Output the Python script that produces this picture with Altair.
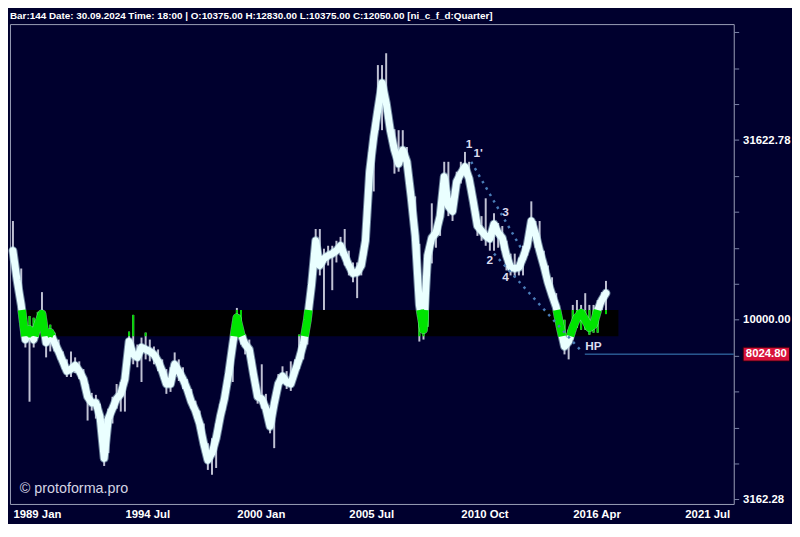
import altair as alt
import pandas as pd
import numpy as np

# ---------------- header info ----------------
bar_no = 144
last_date = "30.09.2024"
last_time = "18:00"
last_open = 10375.00
last_high = 12830.00
last_low = 10375.00
last_close = 12050.00
symbol = "ni_c_f_d:Quarter"

# ---------------- series (quarterly bars, index 0..143) ----------------
smooth = [15570, 12880, 11000, 8810, 9387, 8810, 9690, 10390, 8644, 9210,
          8650, 8170, 7670, 7200, 7290, 7470, 7200, 6840, 6110, 5880,
          5880, 5380, 4120, 5310, 5660, 6030, 6220, 6840, 8700, 8010,
          7860, 8380, 8270, 8170, 8010, 7670, 7200, 6630, 6630, 7520,
          7200, 6840, 6420, 5920, 5590, 5150, 4530, 4070, 4260, 4680,
          5380, 6030, 7060, 8540, 10130, 9090, 8540, 8270, 7060, 6110,
          6030, 5660, 5050, 5840, 6630, 6970, 6710, 6630, 7200, 7760,
          8540, 10000, 12480, 16590, 14160, 14800, 15090, 15280, 15570, 16070,
          15090, 14160, 13460, 13550, 14160, 16590, 25830, 32240, 38470, 45630,
          40210, 33700, 29680, 27170, 29680, 27520, 22050, 17120, 11000, 9390,
          15090, 16900, 17450, 19430, 25020, 20700, 20050, 24250, 25510, 26660,
          24710, 21360, 18240, 17670, 17120, 16800, 18470, 17450, 16900, 15090,
          13980, 13890, 13980, 14900, 16070, 18830, 17340, 15570, 14160, 12720,
          11710, 10860, 9510, 8430, 8700, 9510, 10130, 10450, 10000, 9510,
          9690, 10650, 11350, 11860]

bar_high = [18830, 14440, 13890, 10130, 10250, 10130, 10520, 11940, 9387, 9689,
            9210, 8810, 8165, 7760, 8165, 7860, 7663, 7290, 6628, 6261,
            6183, 5843, 5310, 5660, 6106, 6628, 6712, 7760, 9268, 10320,
            8535, 8922, 9210, 8810, 8428, 8270, 7760, 7290, 7377, 8114,
            7760, 7377, 6840, 6420, 5955, 5590, 5146, 4535, 4680, 5146,
            5843, 6503, 7663, 9387, 10790, 10650, 9094, 8810, 7760, 6628,
            7520, 6222, 5660, 6222, 7063, 7423, 7197, 7663, 7760, 9094,
            9387, 11000, 13290, 17890, 17890, 15770, 16070, 16070, 16590, 17010,
            17890, 15570, 14440, 14440, 15090, 18240, 29320, 35440, 51140, 51140,
            55170, 37270, 33900, 33700, 33700, 30260, 23500, 22050, 16270, 10320,
            16070, 21090, 18590, 20700, 27520, 27520, 22050, 25830, 27520, 29320,
            27520, 23500, 20050, 19430, 21780, 17890, 19800, 18590, 18240, 16590,
            15280, 15280, 14900, 16070, 17120, 21360, 18830, 18830, 15570, 14160,
            13130, 11860, 10320, 10000, 9387, 11000, 11350, 11000, 11860, 11000,
            11000, 11350, 11940, 12830]

bar_low = [14440, 12240, 10520, 8374, 5917, 8374, 8922, 9387, 7860, 8165,
           8165, 7760, 7290, 6931, 6931, 7106, 6840, 6503, 5244, 5590,
           5310, 4680, 3920, 4258, 5146, 5660, 5554, 5554, 7760, 7520,
           7377, 6712, 7760, 7663, 7520, 7197, 6840, 6222, 6301, 7063,
           6755, 6420, 6106, 5660, 5310, 4832, 4258, 3822, 3704, 3870,
           4925, 5590, 6628, 6712, 9094, 8535, 8012, 7663, 6628, 5843,
           5660, 5310, 4832, 4394, 6222, 6628, 6420, 6340, 6840, 7290,
           7760, 8535, 11350, 14800, 13290, 10650, 14160, 12090, 14440, 15090,
           14160, 13290, 12720, 11490, 13290, 15090, 22760, 22760, 33700, 33700,
           37750, 31230, 25510, 25830, 27870, 25830, 20700, 16070, 8699, 8810,
           9567, 14350, 15870, 17120, 21360, 19430, 18830, 22760, 23940, 25030,
           23200, 20050, 17120, 16590, 16070, 15570, 15570, 15870, 15570, 13720,
           13290, 13130, 13290, 13290, 15090, 17450, 15870, 14800, 13550, 12090,
           11130, 10320, 8922, 8012, 7760, 8810, 9506, 9387, 9387, 9094,
           9210, 9210, 10650, 10375]

# ---------------- zone, axes, annotations ----------------
band_low, band_high = 9000, 10650
band_bars = [2, 146]

x_tick_bars = [0, 27, 54, 81, 108, 135, 162]
x_tick_labels = ["1989 Jan", "1994 Jul", "2000 Jan", "2005 Jul", "2010 Oct", "2016 Apr", "2021 Jul"]

y_tick_values = [3162.28, 3981.07, 5011.87, 6309.57, 7943.28, 10000.0, 12589.25,
                 15848.93, 19952.62, 25118.86, 31622.78, 39810.72, 50118.72, 63095.73]
y_label_values = [3162.28, 10000.0, 31622.78]

wave_labels = ["1", "1'", "2", "3", "4", "HP"]
wave_bars = [110, 112.2, 115, 118.8, 118.8, 140]
wave_prices = [30830, 29130, 14710, 19930, 13130, 8428]

trend_names = ["A", "A", "B", "B"]
trend_bars = [110.5, 122.6, 116, 136.7]
trend_prices = [27520, 15770, 15280, 8270]

hp_price = 8024.80
hp_bars = [137.9, 173.8]

watermark = "\u00a9 protoforma.pro"

# ---------------- derived tables ----------------
n = len(smooth)
bars = pd.DataFrame({"bar": np.arange(n), "close": smooth, "high": bar_high, "low": bar_low})

# wick parts inside the zone
gw = bars.copy()
gw["lo"] = np.maximum(gw["low"], band_low)
gw["hi"] = np.minimum(gw["high"], band_high)
gw = gw[gw["lo"] < gw["hi"]]

# line parts inside the zone (clip straight segments in log space)
Lg, Hg = np.log10(band_low), np.log10(band_high)
lv = np.log10(np.array(smooth, dtype=float))
rows = []
run_id = -1
open_end = False
for j in range(n - 1):
    a, b = lv[j], lv[j + 1]
    if a == b:
        t0, t1 = (0.0, 1.0) if Lg <= a <= Hg else (1.0, 0.0)
    else:
        ta, tb = (Lg - a) / (b - a), (Hg - a) / (b - a)
        t0, t1 = max(0.0, min(ta, tb)), min(1.0, max(ta, tb))
    if t0 < t1:
        p0 = (j + t0, 10 ** (a + t0 * (b - a)))
        p1 = (j + t1, 10 ** (a + t1 * (b - a)))
        if open_end and t0 == 0.0:
            rows.append((run_id, p1[0], p1[1]))
        else:
            run_id += 1
            rows.append((run_id, p0[0], p0[1]))
            rows.append((run_id, p1[0], p1[1]))
        open_end = (t1 == 1.0)
    else:
        open_end = False
green = pd.DataFrame(rows, columns=["run", "bar", "close"])

band_df = pd.DataFrame({"x0": [band_bars[0]], "x1": [band_bars[1]], "lo": [band_low], "hi": [band_high]})
waves_df = pd.DataFrame({"bar": wave_bars, "price": wave_prices, "label": wave_labels})
trend_df = pd.DataFrame({"name": trend_names, "bar": trend_bars, "price": trend_prices})
hp_df = pd.DataFrame({"x0": [hp_bars[0]], "x1": [hp_bars[1]], "price": [hp_price],
                      "label": [f"{hp_price:.2f}"]})
wm_df = pd.DataFrame({"t": [watermark]})

header = (f"Bar:{bar_no} Date: {last_date} Time: {last_time} | O:{last_open:.2f} "
          f"H:{last_high:.2f} L:{last_low:.2f} C:{last_close:.2f} [{symbol}]")

# ---------------- scales & axes ----------------
BG = "#00002e"
FONT = "Liberation Sans"
W, H = 733, 486

xscale = alt.Scale(domain=[-0.714, 173.81], nice=False, zero=False)
yscale = alt.Scale(type="log", domain=[3073, 66500], nice=False)

lbl_arr = "[" + ",".join(f"'{s}'" for s in x_tick_labels) + "]"
val_arr = "[" + ",".join(str(v) for v in x_tick_bars) + "]"
xaxis = alt.Axis(values=x_tick_bars, labelExpr=f"{lbl_arr}[indexof({val_arr}, datum.value)]",
                 orient="bottom", domain=False, ticks=False, grid=False, title=None,
                 labelAlign="left", labelColor="white", labelFont=FONT, labelFontSize=11.5,
                 labelFontWeight="bold", labelPadding=5, labelOverlap=False, labelBound=False,
                 labelFlush=False)
ylab_arr = "[" + ",".join(str(v) for v in y_label_values) + "]"
yaxis = alt.Axis(values=y_tick_values, orient="right", domain=False, grid=False, title=None,
                 labelExpr=f"indexof({ylab_arr}, datum.value) >= 0 ? format(datum.value, '.2f') : ''",
                 tickColor="#7c84a8", tickSize=5, labelColor="white", labelFont=FONT,
                 labelFontSize=11.5, labelFontWeight="bold", labelPadding=4,
                 labelOverlap=False, labelBound=False, labelFlush=False)

X = lambda f: alt.X(f, type="quantitative", scale=xscale, axis=xaxis)
Y = lambda f: alt.Y(f, type="quantitative", scale=yscale, axis=yaxis)

band = alt.Chart(band_df).mark_rect(color="black").encode(
    x=X("x0"), x2="x1", y=Y("lo"), y2="hi")

wicks = alt.Chart(bars).mark_rule(color="#d4d6e6", strokeWidth=2, opacity=0.9).encode(
    x=X("bar"), y=Y("low"), y2="high")

gwicks = alt.Chart(gw).mark_rule(color="#00d400", strokeWidth=2).encode(
    x=X("bar"), y=Y("lo"), y2="hi")

glow = alt.Chart(bars).mark_line(color="#bfe8f0", strokeWidth=9, strokeJoin="round",
                                  strokeCap="round", opacity=0.55).encode(x=X("bar"), y=Y("close"))

line = alt.Chart(bars).mark_line(color="#eaffff", strokeWidth=7, strokeJoin="round",
                                  strokeCap="round").encode(x=X("bar"), y=Y("close"))

gline = alt.Chart(green).mark_line(color="#00e400", strokeWidth=8, strokeJoin="round").encode(
    x=X("bar"), y=Y("close"), detail="run:N")

trend = alt.Chart(trend_df).mark_line(color="#4a7db8", strokeWidth=2.5, strokeDash=[2.5, 5]).encode(
    x=X("bar"), y=Y("price"), detail="name:N")

hpline = alt.Chart(hp_df).mark_rule(color="#3f86c4", strokeWidth=1).encode(
    x=X("x0"), x2="x1", y=Y("price"))

waves = alt.Chart(waves_df).mark_text(color="#dcdcee", font=FONT, fontSize=12,
                                      fontWeight="bold", align="center", baseline="middle").encode(
    x=X("bar"), y=Y("price"), text="label:N")

tag_box = alt.Chart(hp_df).mark_point(
    shape="M-1,-0.3L1,-0.3L1,0.3L-1,0.3Z", size=2209, filled=True, opacity=1,
    color="#d8123a", stroke="#2a0010", strokeWidth=1).encode(
    x=alt.value(766), y=Y("price"))

tag_text = alt.Chart(hp_df).mark_text(color="white", font=FONT, fontSize=11.5, fontWeight="bold",
                                      align="center", baseline="middle").encode(
    x=alt.value(766), y=Y("price"), text="label:N")

wm = alt.Chart(wm_df).mark_text(color="#d4d4e4", font=FONT, fontSize=14.5, align="left",
                                baseline="middle").encode(
    x=alt.value(10), y=alt.value(471), text="t:N")

chart = alt.layer(band, wicks, gwicks, glow, line, gline, trend, hpline, waves, tag_box, tag_text, wm).properties(
    width=W, height=H,
    padding=0,
    background=BG,
    title=alt.TitleParams(header, anchor="start", font=FONT, fontSize=10, fontWeight="bold",
                          color="white", offset=3, frame="group"),
).configure_view(fill=BG, stroke="#9aa0b8", strokeWidth=1)

chart.save("out.html", embed_options={"renderer": "svg", "actions": False})
